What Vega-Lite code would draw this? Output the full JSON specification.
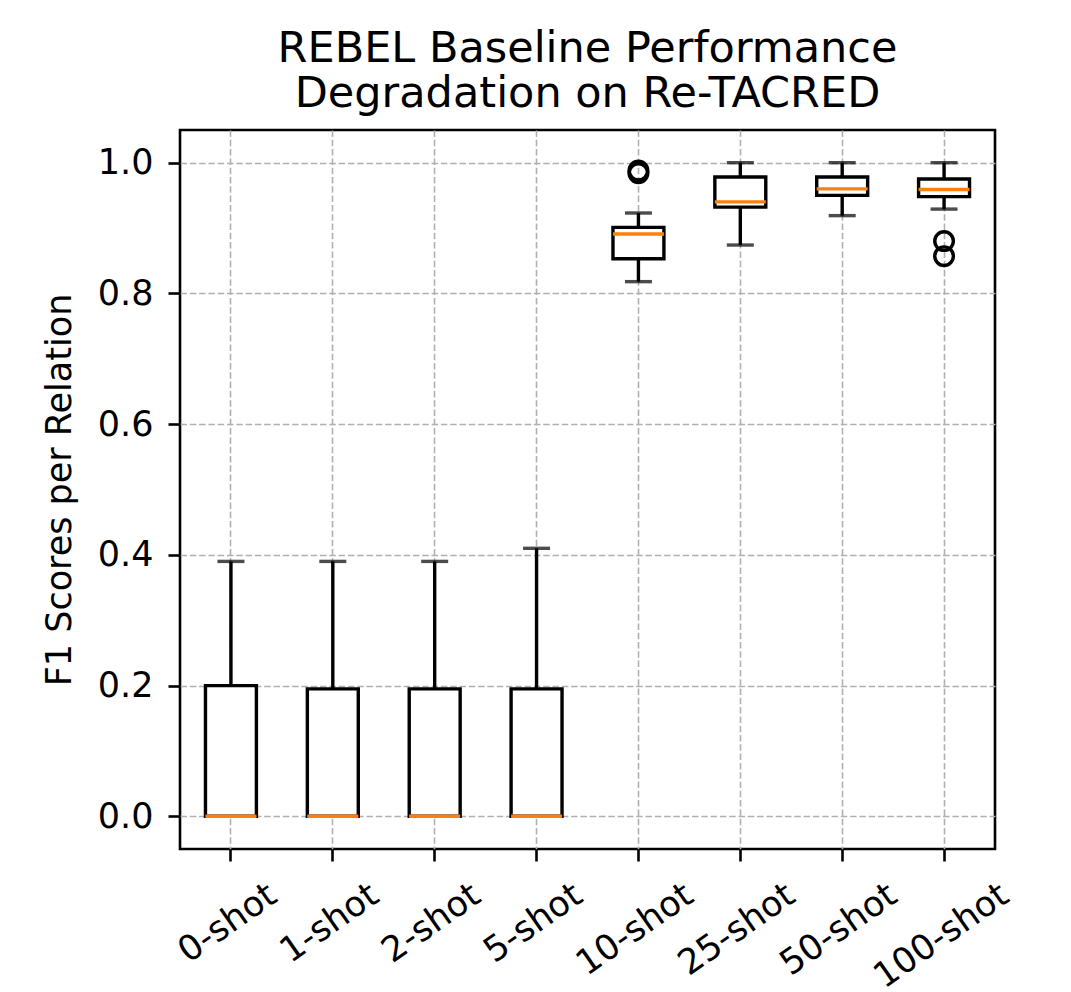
{
  "$schema": "https://vega.github.io/schema/vega-lite/v6.json",
  "width": 815,
  "height": 719,
  "autosize": {"type": "none"},
  "padding": {"left": 180, "top": 130, "right": 76, "bottom": 143},
  "background": "white",
  "config": {
    "font": "DejaVu Sans",
    "view": {"stroke": "black", "strokeWidth": 2.6},
    "axis": {
      "labelFont": "DejaVu Sans", "labelFontSize": 35, "labelColor": "black",
      "titleFont": "DejaVu Sans", "titleFontSize": 35, "titleFontWeight": "normal", "titleColor": "black",
      "tickColor": "black", "tickSize": 12, "tickWidth": 2.6,
      "domainColor": "black", "domainWidth": 2.6,
      "grid": true, "gridColor": "#b0b0b0", "gridDash": [6.5, 2.8], "gridWidth": 1.6
    }
  },
  "title": {
    "text": ["REBEL Baseline Performance", "Degradation on Re-TACRED"],
    "font": "DejaVu Sans", "fontSize": 43, "fontWeight": "normal", "color": "black",
    "lineHeight": 45, "offset": 14, "anchor": "middle"
  },
  "datasets": {
    "stats": [
      {"shot": "0-shot", "lo": 0.0, "q1": 0.0, "med": 0.0, "q3": 0.2, "hi": 0.39},
      {"shot": "1-shot", "lo": 0.0, "q1": 0.0, "med": 0.0, "q3": 0.195, "hi": 0.39},
      {"shot": "2-shot", "lo": 0.0, "q1": 0.0, "med": 0.0, "q3": 0.195, "hi": 0.39},
      {"shot": "5-shot", "lo": 0.0, "q1": 0.0, "med": 0.0, "q3": 0.195, "hi": 0.41},
      {"shot": "10-shot", "lo": 0.818, "q1": 0.853, "med": 0.891, "q3": 0.901, "hi": 0.923},
      {"shot": "25-shot", "lo": 0.874, "q1": 0.932, "med": 0.94, "q3": 0.978, "hi": 1.0},
      {"shot": "50-shot", "lo": 0.919, "q1": 0.95, "med": 0.96, "q3": 0.978, "hi": 1.0},
      {"shot": "100-shot", "lo": 0.929, "q1": 0.948, "med": 0.959, "q3": 0.975, "hi": 1.0}
    ],
    "outliers": [
      {"shot": "10-shot", "value": 0.984},
      {"shot": "10-shot", "value": 0.988},
      {"shot": "100-shot", "value": 0.88},
      {"shot": "100-shot", "value": 0.857}
    ]
  },
  "encoding": {
    "x": {
      "field": "shot", "type": "nominal",
      "sort": ["0-shot", "1-shot", "2-shot", "5-shot", "10-shot", "25-shot", "50-shot", "100-shot"],
      "scale": {"paddingInner": 0, "paddingOuter": 0},
      "axis": {
        "title": null, "labelAngle": -35, "labelAlign": "right", "labelBaseline": "top",
        "labelPadding": 16, "domain": false, "labelOverlap": false, "labelBound": false,
        "labelOffset": {
          "condition": [
            {"test": "length(datum.label) == 6", "value": 32},
            {"test": "length(datum.label) == 7", "value": 41}
          ],
          "value": 51
        }
      }
    }
  },
  "layer": [
    {
      "data": {"name": "stats"},
      "mark": {"type": "rule", "color": "black", "strokeWidth": 3.4},
      "encoding": {
        "y": {"field": "lo", "type": "quantitative",
          "scale": {"domain": [-0.05, 1.05], "nice": false, "zero": false},
          "axis": {"title": "F1 Scores per Relation", "values": [0, 0.2, 0.4, 0.6, 0.8, 1.0], "format": ".1f", "titlePadding": 20, "labelPadding": 15, "domain": false}},
        "y2": {"field": "hi"}
      }
    },
    {
      "data": {"name": "stats"},
      "mark": {"type": "tick", "color": "black", "size": 27, "thickness": 3.4},
      "encoding": {"y": {"field": "lo", "type": "quantitative"}}
    },
    {
      "data": {"name": "stats"},
      "mark": {"type": "tick", "color": "black", "size": 27, "thickness": 3.4},
      "encoding": {"y": {"field": "hi", "type": "quantitative"}}
    },
    {
      "data": {"name": "stats"},
      "mark": {"type": "bar", "fill": "white", "stroke": "black", "strokeWidth": 3.4, "width": {"band": 0.5}},
      "encoding": {
        "y": {"field": "q1", "type": "quantitative"},
        "y2": {"field": "q3"}
      }
    },
    {
      "data": {"name": "stats"},
      "mark": {"type": "tick", "color": "#ff7f0e", "size": 51, "thickness": 3.4, "opacity": 1},
      "encoding": {"y": {"field": "med", "type": "quantitative"}}
    },
    {
      "data": {"name": "outliers"},
      "mark": {"type": "point", "shape": "circle", "filled": false, "stroke": "black", "strokeWidth": 3.4, "size": 346, "opacity": 1},
      "encoding": {"y": {"field": "value", "type": "quantitative"}}
    }
  ]
}
